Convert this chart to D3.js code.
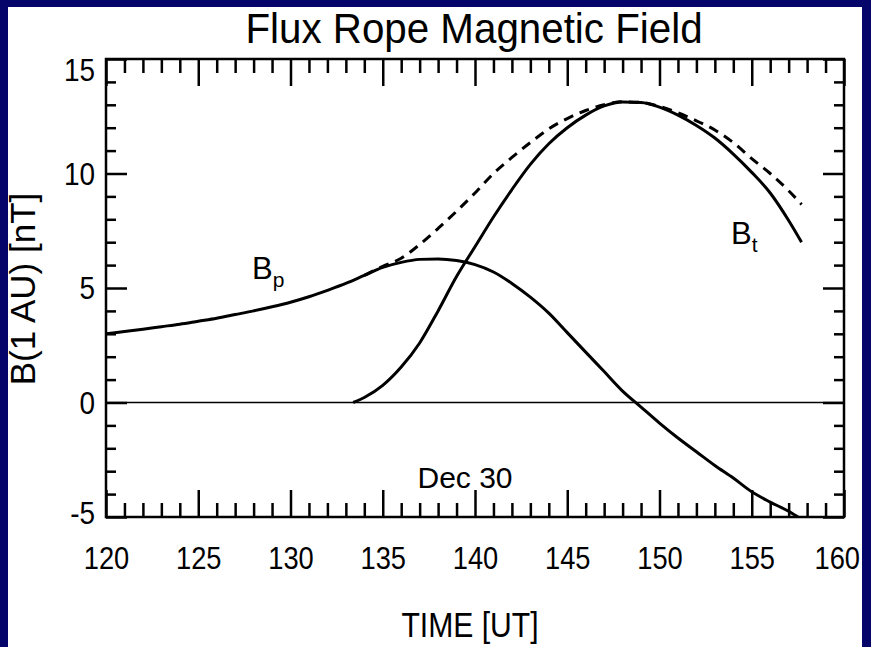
<!DOCTYPE html>
<html>
<head>
<meta charset="utf-8">
<script src="https://cdn.jsdelivr.net/npm/d3@7"></script>
<style>
  html, body { margin: 0; padding: 0; background: #04046b; }
  svg { display: block; }
  text { font-family: "Liberation Sans", Arial, Helvetica, sans-serif; fill: #000; }
</style>
</head>
<body>
<svg id="chart" width="871" height="647"></svg>
<script>
// Time axis (hours UT, starting Dec 30)
const xTicksMajor = [120, 125, 130, 135, 140, 145, 150, 155, 160];
const yTicksMajor = [-5, 0, 5, 10, 15];

// Poloidal field component B_p [nT]
const timeBp = [120, 121, 122, 123, 124, 125, 126, 127, 128, 129, 130, 131, 132, 133, 134, 135, 136, 137, 138, 139,
                140, 141, 142, 143, 144, 145, 146, 147, 148, 149, 150, 151, 152, 153, 154, 155, 156, 157, 157.7];
const valBp  = [3.00, 3.10, 3.20, 3.31, 3.42, 3.55, 3.68, 3.84, 4.00, 4.18, 4.38, 4.62, 4.90, 5.20, 5.55, 5.90, 6.12, 6.25, 6.27, 6.20,
                6.02, 5.70, 5.20, 4.60, 3.90, 3.05, 2.20, 1.35, 0.50, -0.20, -0.90, -1.55, -2.15, -2.75, -3.30, -3.90, -4.35, -4.75, -5.10];

// Toroidal field component B_t [nT]
const timeBt = [133.4, 134, 135, 136, 137, 138, 139, 140, 141, 142, 143, 144, 145, 146, 147, 148, 149, 150, 151, 152,
                153, 154, 155, 156, 157, 157.7];
const valBt  = [0.00, 0.22, 0.75, 1.55, 2.60, 4.00, 5.50, 6.80, 8.10, 9.30, 10.40, 11.30, 12.00, 12.55, 12.95, 13.12, 13.10, 12.90, 12.55, 12.10,
                11.55, 10.85, 10.05, 9.15, 7.95, 7.00];

// Total field magnitude |B| [nT]
const timeBtot = [134, 135, 136, 137, 138, 139, 140, 141, 142, 143, 144, 145, 146, 147, 148, 149, 150, 151, 152, 153,
                  154, 155, 156, 157, 157.7];
const valBtot  = [5.55, 5.95, 6.30, 6.90, 7.60, 8.35, 9.15, 10.00, 10.70, 11.35, 11.95, 12.40, 12.75, 13.00, 13.13, 13.10, 12.93, 12.65, 12.30, 11.90,
                  11.35, 10.65, 10.00, 9.25, 8.65];

const svg = d3.select("#chart");
const W = 871, H = 647;
const innerRight = 862;

// page frame
svg.append("rect").attr("x", 0).attr("y", 0).attr("width", W).attr("height", H).attr("fill", "#04046b");
svg.append("rect").attr("x", 8).attr("y", 7).attr("width", innerRight - 8).attr("height", H - 7).attr("fill", "#ffffff");

const x = d3.scaleLinear().domain([120, 160]).range([106, 844]);
const y = d3.scaleLinear().domain([-5, 15]).range([517, 59]);

const minorX = d3.range(120, 161, 1).filter(v => v % 5 !== 0);
const minorY = d3.range(-5, 16, 1).filter(v => v % 5 !== 0);

const tickStroke = 2.5;
const plainNum = d => String(d);

// squeeze a text element horizontally to a fraction of its natural width
function condense(sel, k) {
  sel.each(function () {
    const len = this.getComputedTextLength();
    d3.select(this).attr("textLength", len * k).attr("lengthAdjust", "spacingAndGlyphs");
  });
}

// keep a label clear of the right page border
function keepInside(sel) {
  sel.each(function () {
    const b = this.getBBox();
    const t = d3.select(this.parentNode).attr("transform");
    const tx = +/translate\(([-\d.]+)/.exec(t)[1];
    const over = tx + b.x + b.width - (innerRight - 2);
    if (over > 0) d3.select(this).attr("x", -over);
  });
}

function styleAxis(g) {
  g.select(".domain").remove();
  g.selectAll(".tick line").attr("stroke", "#000").attr("stroke-width", tickStroke);
}

// bottom axis with labels
svg.append("g").attr("transform", `translate(0,${y(-5)})`)
  .call(d3.axisBottom(x).tickValues(xTicksMajor).tickSize(-27).tickPadding(30).tickFormat(plainNum))
  .call(styleAxis)
  .call(g => g.selectAll("text").attr("font-size", 31).attr("font-family", null).call(condense, 0.88).call(keepInside));
svg.append("g").attr("transform", `translate(0,${y(-5)})`)
  .call(d3.axisBottom(x).tickValues(minorX).tickSize(-14).tickFormat(""))
  .call(styleAxis);

// top axis, ticks only
svg.append("g").attr("transform", `translate(0,${y(15)})`)
  .call(d3.axisTop(x).tickValues(xTicksMajor).tickSize(-27).tickFormat(""))
  .call(styleAxis);
svg.append("g").attr("transform", `translate(0,${y(15)})`)
  .call(d3.axisTop(x).tickValues(minorX).tickSize(-14).tickFormat(""))
  .call(styleAxis);

// left axis with labels; the end labels are nudged inside the frame
svg.append("g").attr("transform", `translate(${x(120)},0)`)
  .call(d3.axisLeft(y).tickValues(yTicksMajor).tickSize(-21).tickPadding(11).tickFormat(plainNum))
  .call(styleAxis)
  .call(g => g.selectAll("text").attr("font-size", 31).attr("font-family", null)
    .attr("dy", d => d === 15 ? "0.7em" : d === -5 ? "0.2em" : "0.34em").call(condense, 0.9));
svg.append("g").attr("transform", `translate(${x(120)},0)`)
  .call(d3.axisLeft(y).tickValues(minorY).tickSize(-10).tickFormat(""))
  .call(styleAxis);

// right axis, ticks only
svg.append("g").attr("transform", `translate(${x(160)},0)`)
  .call(d3.axisRight(y).tickValues(yTicksMajor).tickSize(-21).tickFormat(""))
  .call(styleAxis);
svg.append("g").attr("transform", `translate(${x(160)},0)`)
  .call(d3.axisRight(y).tickValues(minorY).tickSize(-10).tickFormat(""))
  .call(styleAxis);

// plot frame
svg.append("rect")
  .attr("x", x(120)).attr("y", y(15))
  .attr("width", x(160) - x(120)).attr("height", y(-5) - y(15))
  .attr("fill", "none").attr("stroke", "#000").attr("stroke-width", 2.5);

// zero reference line
svg.append("line")
  .attr("x1", x(120)).attr("x2", x(160)).attr("y1", y(0)).attr("y2", y(0))
  .attr("stroke", "#000").attr("stroke-width", 1.6);

// clip to the plot box
svg.append("clipPath").attr("id", "plotClip")
  .append("rect").attr("x", x(120)).attr("y", y(15))
  .attr("width", x(160) - x(120)).attr("height", y(-5) - y(15));

const line = d3.line().x(d => x(d[0])).y(d => y(d[1])).curve(d3.curveMonotoneX);
const plot = svg.append("g").attr("clip-path", "url(#plotClip)");

plot.append("path").datum(d3.zip(timeBtot, valBtot))
  .attr("d", line).attr("fill", "none").attr("stroke", "#000")
  .attr("stroke-width", 3).attr("stroke-dasharray", "10,7");
plot.append("path").datum(d3.zip(timeBp, valBp))
  .attr("d", line).attr("fill", "none").attr("stroke", "#000").attr("stroke-width", 3);
plot.append("path").datum(d3.zip(timeBt, valBt))
  .attr("d", line).attr("fill", "none").attr("stroke", "#000").attr("stroke-width", 3);

// titles
svg.append("text").attr("x", 474).attr("y", 43).attr("text-anchor", "middle")
  .attr("font-size", 42).text("Flux Rope Magnetic Field").call(condense, 0.96);
svg.append("text").attr("x", 470).attr("y", 637).attr("text-anchor", "middle")
  .attr("font-size", 35).text("TIME [UT]").call(condense, 0.86);
svg.append("text").attr("transform", "translate(35,289) rotate(-90)").attr("text-anchor", "middle")
  .attr("font-size", 35).text("B(1 AU) [nT]");

// curve labels
const lblBp = svg.append("text").attr("x", 252).attr("y", 279).attr("font-size", 31);
lblBp.append("tspan").text("B");
lblBp.append("tspan").attr("font-size", 21).attr("dy", 8).text("p");

const lblBt = svg.append("text").attr("x", 731).attr("y", 244).attr("font-size", 31);
lblBt.append("tspan").text("B");
lblBt.append("tspan").attr("font-size", 21).attr("dy", 8).text("t");

svg.append("text").attr("x", 465).attr("y", 488).attr("text-anchor", "middle")
  .attr("font-size", 30).text("Dec 30");
</script>
</body>
</html>
